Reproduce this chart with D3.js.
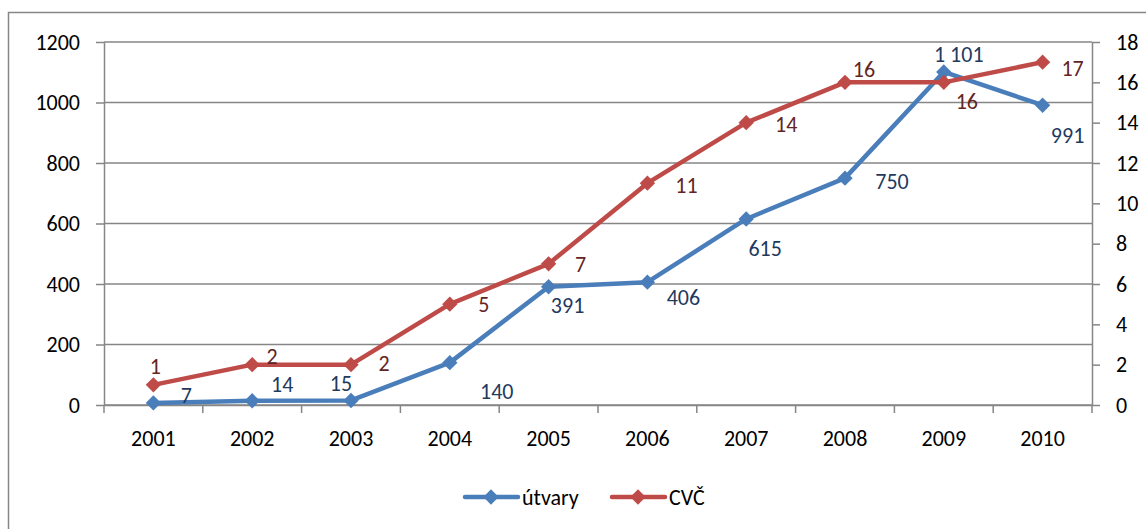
<!DOCTYPE html>
<html>
<head>
<meta charset="utf-8">
<script src="https://cdn.jsdelivr.net/npm/d3@7"></script>
<style>
  body { margin: 0; background: #fff; }
  text { font-family: Carlito, Lato, "Open Sans", sans-serif; }
</style>
</head>
<body>
<script>
const years = ['2001', '2002', '2003', '2004', '2005', '2006', '2007', '2008', '2009', '2010']
const utvary = [7, 14, 15, 140, 391, 406, 615, 750, 1101, 991]
const cvc = [1, 2, 2, 5, 7, 11, 14, 16, 16, 17]
const leftTicks = [0, 200, 400, 600, 800, 1000, 1200]
const rightTicks = [0, 2, 4, 6, 8, 10, 12, 14, 16, 18]

// label placement (dx, dy from the point), as in the original
const utvaryLabelOff = [[33, -8], [30, -16], [-10, -17], [47, 29], [19, 19], [36, 15], [19, 29], [47, 3], [15, -18], [25, 30]]
const cvcLabelOff = [[2, -19], [20, -8], [33, -1], [34, 0], [32, 0], [39, 2], [40, 2], [19, -13], [23, 19], [30, 6]]

const W = 1146, H = 529
const margin = { top: 42, right: 54, bottom: 124, left: 104 }
const width = W - margin.left - margin.right
const height = H - margin.top - margin.bottom
const fs = '22px'

const svg = d3.select('body').append('svg')
    .attr('width', W)
    .attr('height', H)

svg.append('rect')
    .attr('x', 8.5).attr('y', 12.5)
    .attr('width', 1150).attr('height', 530)
    .style('fill', 'none')
    .style('stroke', '#868686')
    .style('stroke-width', 1.5)

const g = svg.append('g')
    .attr('transform', `translate(${margin.left}, ${margin.top})`)

const xScale = d3.scaleBand()
    .domain(years)
    .range([0, width])

const yLeft = d3.scaleLinear().domain([0, 1200]).range([height, 0])
const yRight = d3.scaleLinear().domain([0, 18]).range([height, 0])

// gridlines
g.selectAll('.grid')
    .data(leftTicks)
    .enter().append('line')
    .attr('x1', 0).attr('x2', width)
    .attr('y1', d => yLeft(d)).attr('y2', d => yLeft(d))
    .style('stroke', '#868686')
    .style('stroke-width', 1.5)

const gray = '#868686'
function styleAxis(sel) {
    sel.select('.domain').style('stroke', gray).style('stroke-width', 1.5)
    sel.selectAll('.tick line').style('stroke', gray).style('stroke-width', 1.5)
    sel.selectAll('.tick text').style('fill', '#000').style('font-size', fs)
}

g.append('g')
    .call(d3.axisLeft(yLeft).tickValues(leftTicks).tickFormat(d3.format('d')).tickSize(8).tickSizeOuter(0).tickPadding(16))
    .call(styleAxis)

g.append('g')
    .attr('transform', `translate(${width}, 0)`)
    .call(d3.axisRight(yRight).tickValues(rightTicks).tickSize(8).tickSizeOuter(0).tickPadding(16))
    .call(styleAxis)

const xAxis = g.append('g')
    .attr('transform', `translate(0, ${height})`)
    .call(d3.axisBottom(xScale).tickSize(0).tickPadding(25))
    .call(styleAxis)

// category boundary ticks
xAxis.selectAll('.btick')
    .data(d3.range(years.length + 1))
    .enter().append('line')
    .attr('x1', i => i * xScale.step()).attr('x2', i => i * xScale.step())
    .attr('y1', 0).attr('y2', 8)
    .style('stroke', gray)
    .style('stroke-width', 1.5)

const cx = d => xScale(d) + xScale.bandwidth() / 2
const diamond = d3.symbol().type(d3.symbolDiamond2).size(150)

const series = [
    { name: 'útvary', values: utvary, y: yLeft, color: '#4A7EBB', labelColor: '#1F3A5F', off: utvaryLabelOff, fmt: v => v >= 1000 ? d3.format(',')(v).replace(',', ' ') : v },
    { name: 'CVČ', values: cvc, y: yRight, color: '#BE4B48', labelColor: '#632523', off: cvcLabelOff, fmt: v => v }
]

series.forEach(s => {
    const line = d3.line()
        .x((v, i) => cx(years[i]))
        .y(v => s.y(v))
    g.append('path')
        .datum(s.values)
        .attr('d', line)
        .style('fill', 'none')
        .style('stroke', s.color)
        .style('stroke-width', 4.5)
        .style('stroke-linejoin', 'round')

    g.selectAll(null)
        .data(s.values)
        .enter().append('path')
        .attr('d', diamond)
        .attr('transform', (v, i) => `translate(${cx(years[i])}, ${s.y(v)})`)
        .style('fill', s.color)

    g.selectAll(null)
        .data(s.values)
        .enter().append('text')
        .attr('x', (v, i) => cx(years[i]) + s.off[i][0])
        .attr('y', (v, i) => s.y(v) + s.off[i][1])
        .attr('dy', '0.35em')
        .style('text-anchor', 'middle')
        .style('font-size', fs)
        .style('fill', s.labelColor)
        .text(v => s.fmt(v))
})

// legend
const legend = svg.append('g').attr('transform', 'translate(465, 497)')
series.forEach((s, i) => {
    const lg = legend.append('g').attr('transform', `translate(${i * 147}, 0)`)
    lg.append('line')
        .attr('x1', 0).attr('x2', 53)
        .style('stroke', s.color)
        .style('stroke-width', 4.5)
        .style('stroke-linecap', 'round')
    lg.append('path')
        .attr('d', diamond)
        .attr('transform', 'translate(26, 0)')
        .style('fill', s.color)
    lg.append('text')
        .attr('x', 57)
        .attr('dy', '0.35em')
        .style('font-size', fs)
        .style('fill', '#000')
        .text(s.name)
})
</script>
</body>
</html>
